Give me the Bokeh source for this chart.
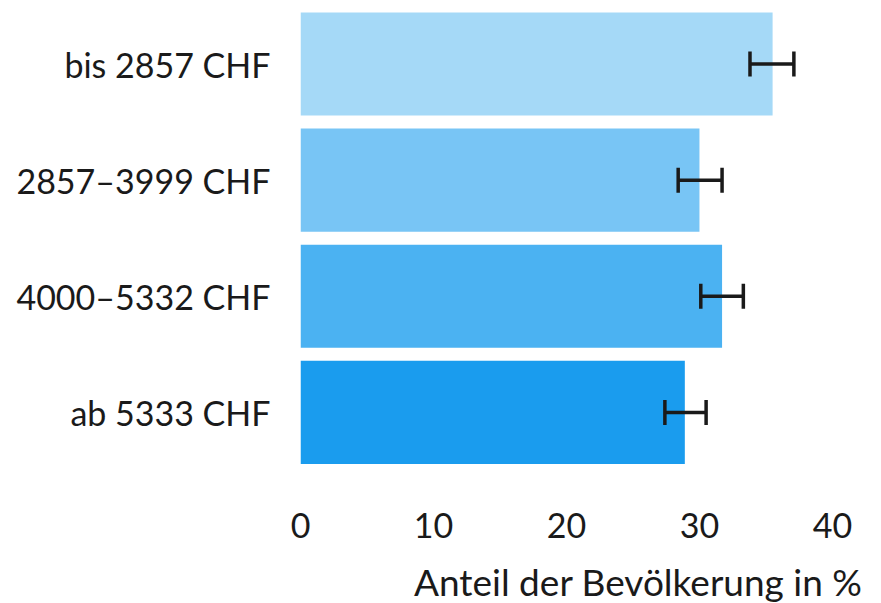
from bokeh.plotting import figure
from bokeh.models import ColumnDataSource, Whisker, TeeHead, FixedTicker, Range1d, Div
from bokeh.layouts import column
from bokeh.embed import file_html
from bokeh.resources import INLINE

categories = ["bis 2857 CHF", "2857–3999 CHF", "4000–5332 CHF", "ab 5333 CHF"]
values = [35.5, 30.0, 31.7, 28.9]
err_low = [33.8, 28.4, 30.1, 27.4]
err_high = [37.1, 31.7, 33.3, 30.5]
colors = ["#a5d9f7", "#78c5f5", "#4bb2f2", "#1a9cee"]
x_ticks = [0, 10, 20, 30, 40]
x_title = "Anteil der Bevölkerung in %"

n = len(categories)
ypos = [n - 1 - i for i in range(n)]

src = ColumnDataSource(dict(y=ypos, v=values, lo=err_low, hi=err_high, c=colors, cat=categories))

FONT = "Lato"
INK = "#1a1a1a"
p = figure(width=865, height=560, output_backend="svg", toolbar_location=None,
           x_range=Range1d(0, 42.26), y_range=Range1d(-0.586, 3.478),
           min_border_left=300, min_border_right=3, min_border_top=8, min_border_bottom=80)

p.hbar(y="y", left=0, right="v", height=0.888, fill_color="c", line_color=None, source=src)

w = Whisker(source=src, base="y", lower="lo", upper="hi", dimension="width",
            line_width=3.5, line_color=INK, level="overlay",
            lower_head=TeeHead(size=25, line_width=3.5, line_color=INK),
            upper_head=TeeHead(size=25, line_width=3.5, line_color=INK))
p.add_layout(w)

p.xgrid.visible = False
p.ygrid.visible = False
p.outline_line_color = None

p.xaxis.ticker = FixedTicker(ticks=x_ticks)
p.yaxis.ticker = FixedTicker(ticks=ypos)
p.yaxis.major_label_overrides = {y: c for y, c in zip(ypos, categories)}

for ax in (p.xaxis[0], p.yaxis[0]):
    ax.axis_line_color = None
    ax.major_tick_line_color = None
    ax.minor_tick_line_color = None
    ax.major_tick_out = 0
    ax.major_tick_in = 0
    ax.major_label_text_font = FONT
    ax.major_label_text_font_size = "34px"
    ax.major_label_text_color = INK

p.yaxis.major_label_standoff = 30
p.xaxis.major_label_standoff = 32

div = Div(text=x_title, width=862, height=43, margin=0,
          styles={"font-family": FONT, "font-size": "37px", "line-height": "44px",
                  "text-align": "right", "color": INK, "white-space": "nowrap"})

layout = column(p, div, spacing=0)

open("out.html", "w").write(file_html(layout, INLINE))
